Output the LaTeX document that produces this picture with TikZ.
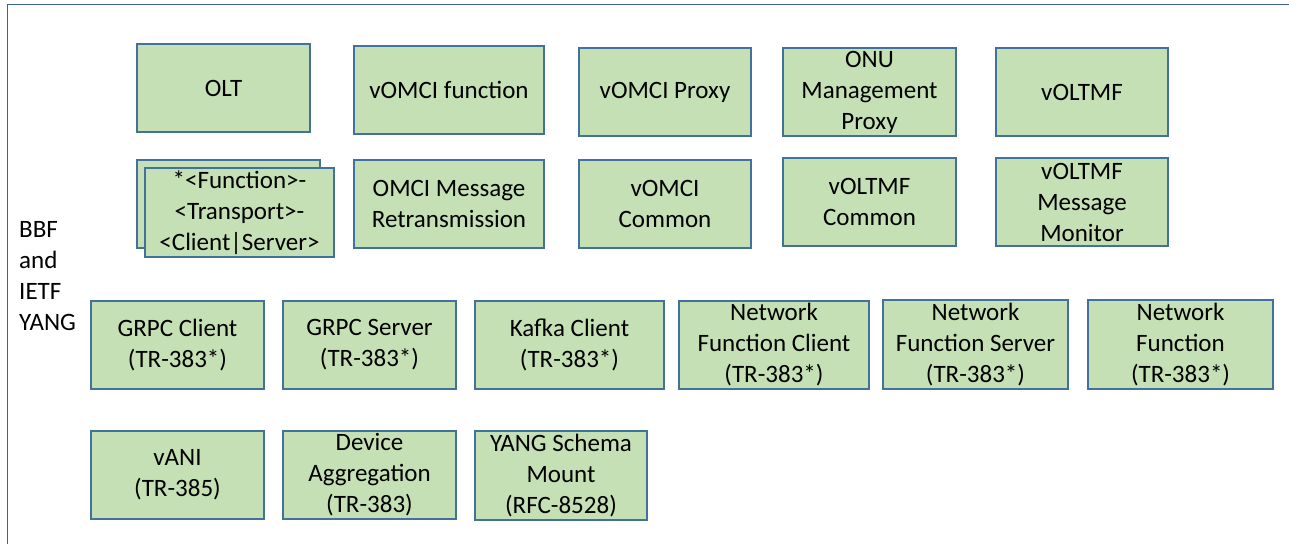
\documentclass[tikz,border=0pt]{standalone}
\usepackage{fontspec}
\setmainfont{Carlito}
\definecolor{boxfill}{HTML}{C5E0B4}
\definecolor{boxline}{HTML}{41719C}
\definecolor{frameline}{HTML}{3F5F9E}
\begin{document}
\begin{tikzpicture}[x=1pt,y=-1pt,
  box/.style={draw=boxline,fill=boxfill,line width=1.2pt,inner sep=0pt,align=center,
    font=\fontsize{25}{31}\selectfont},
  lbl/.style={inner sep=0pt,align=left,font=\fontsize{25}{31}\selectfont}]
\useasboundingbox (0,0) rectangle (1289,544);
\fill[white] (0,0) rectangle (1289,544);
% outer frame (only left and top edges visible)
\coordinate (fbl) at (7.5,544);
\coordinate (ftl) at (7.5,4.5);
\coordinate (ftr) at (1289,4.5);
\draw[frameline,line width=1.2pt] (fbl) -- (ftl) -- (ftr);
\node[lbl,anchor=base west] (bbf) at (19,330) {BBF\\and\\IETF\\YANG};
% row 1
\node[box,minimum width=173pt,minimum height=88pt] (olt) at (223.5,88) {OLT};
\node[box,minimum width=190pt,minimum height=88pt] (vomcif) at (449,90) {vOMCI function};
\node[box,minimum width=172pt,minimum height=88pt] (vproxy) at (665,92) {vOMCI Proxy};
\node[box,minimum width=173pt,minimum height=88pt] (onu) at (869.5,92) {ONU\\Management\\Proxy};
\node[box,minimum width=172pt,minimum height=88pt] (voltmf) at (1082,92) {vOLTMF};
% row 2
\node[box,minimum width=183pt,minimum height=88pt] (stackback) at (228.5,204) {};
\node[box,minimum width=189pt,minimum height=89pt] (stackfront) at (239.5,212.5) {*<Function>-\\<Transport>-\\<Client|Server>};
\node[box,minimum width=190pt,minimum height=88pt] (omci) at (449,204) {OMCI Message\\Retransmission};
\node[box,minimum width=172pt,minimum height=88pt] (vcommon) at (665,204) {vOMCI\\Common};
\node[box,minimum width=173pt,minimum height=88pt] (voltcommon) at (869.5,202) {vOLTMF\\Common};
\node[box,minimum width=172pt,minimum height=88pt] (monitor) at (1082,202) {vOLTMF\\Message\\Monitor};
% row 3
\node[box,minimum width=173pt,minimum height=88pt] (grpcc) at (177.5,345) {GRPC Client\\(TR-383*)};
\node[box,minimum width=173pt,minimum height=88pt] (grpcs) at (369.5,345) {GRPC Server\\(TR-383*)};
\node[box,minimum width=189pt,minimum height=88pt] (kafka) at (569.5,345) {Kafka Client\\(TR-383*)};
\node[box,minimum width=190pt,minimum height=88pt] (nfc) at (774,345) {Network\\Function Client\\(TR-383*)};
\node[box,minimum width=185pt,minimum height=89pt] (nfs) at (975.5,344.5) {Network\\Function Server\\(TR-383*)};
\node[box,minimum width=185pt,minimum height=89pt] (nf) at (1180.5,344.5) {Network\\Function\\(TR-383*)};
% row 4
\node[box,minimum width=173pt,minimum height=88pt] (vani) at (177.5,475) {vANI\\(TR-385)};
\node[box,minimum width=173pt,minimum height=88pt] (devagg) at (369.5,475) {Device\\Aggregation\\(TR-383)};
\node[box,minimum width=172pt,minimum height=89pt] (yangsm) at (561,475.5) {YANG Schema\\Mount\\(RFC-8528)};
\end{tikzpicture}
\end{document}
